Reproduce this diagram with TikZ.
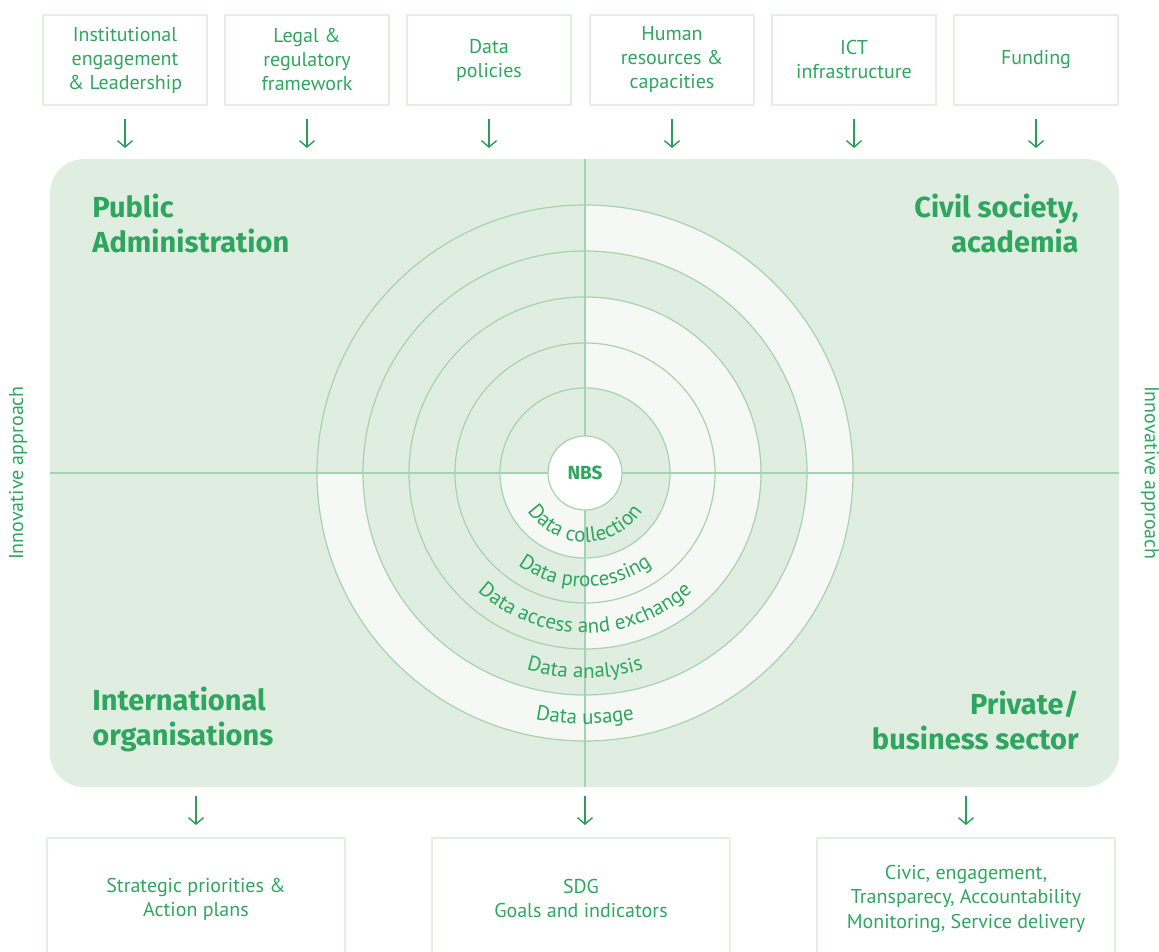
\documentclass[tikz,border=0pt]{standalone}
\usepackage{fontspec}
\setmainfont{PT Sans}
\newfontfamily\headfont{Fira Sans}
\usetikzlibrary{arrows.meta}
\usetikzlibrary{decorations.text}

\definecolor{panelgreen}{RGB}{224,238,225}
\definecolor{ringlight}{RGB}{246,248,245}
\definecolor{ringline}{RGB}{165,211,175}
\definecolor{boxline}{RGB}{226,240,228}
\definecolor{textgreen}{RGB}{46,166,94}
\definecolor{arrowgreen}{RGB}{40,158,88}

\newcommand{\bodyfont}{\fontsize{10}{12}\selectfont}
\newcommand{\headsize}{\headfont\bfseries\fontsize{14.5}{17.5}\selectfont}
\newcommand{\ringfont}{\fontsize{10.5}{12}\selectfont}
% light part of one ring: inner radius, outer radius, start angle, end angle
\newcommand{\lightring}[4]{%
  \fill[ringlight] (#3:#1) arc[start angle=#3,end angle=#4,radius=#1]
    -- (#4:#2) arc[start angle=#4,end angle=#3,radius=#2] -- cycle;}

\tikzset{
  topbox/.style={draw=boxline, line width=1pt, minimum width=82pt, minimum height=45pt,
    align=center, text=textgreen, font=\bodyfont, inner sep=2pt},
  botbox/.style={draw=boxline, line width=1pt, minimum width=149pt, minimum height=61pt,
    align=center, text=textgreen, font=\bodyfont},
  flow/.style={draw=arrowgreen, line width=0.7pt, -{Straight Barb[length=3.2pt,width=7.5pt]}},
  heading/.style={text=textgreen, font=\headsize, inner sep=0pt},
  sidetext/.style={text=textgreen, font=\bodyfont},
  ringline/.style={draw=ringline, line width=0.6pt},
  ringtext/.style={decorate, decoration={text along path, text align=center, text color=textgreen}}
}

\begin{document}
\begin{tikzpicture}[x=0.5pt,y=0.5pt]
  \useasboundingbox (0,0) rectangle (1159,951);
  \clip (0,0) rectangle (1159,951);

  % enablers
  \node[topbox] (t1) at (125,891) {Institutional\\engagement\\\& Leadership};
  \node[topbox] (t2) at (307,891) {Legal \&\\regulatory\\framework};
  \node[topbox] (t3) at (489,891) {Data\\policies};
  \node[topbox] (t4) at (672,891) {Human\\resources \&\\capacities};
  \node[topbox] (t5) at (854,891) {ICT\\infrastructure};
  \node[topbox] (t6) at (1036,891) {Funding};
  \foreach \b in {t1,t2,t3,t4,t5,t6}
    \draw[flow] ([yshift=-6.5pt]\b.south) -- ++(0,-29);

  % main panel
  \fill[panelgreen, rounded corners=17pt] (50,164) rectangle (1119,792);
  \coordinate (O) at (585,478);
  \begin{scope}[shift={(O)}]
    \lightring{222}{268}{-180}{90}
    \lightring{85}{176}{-90}{90}
    \lightring{37}{85}{180}{270}
  \end{scope}
  \draw[ringline] (585,164) -- (585,792);
  \draw[ringline] (50,478) -- (1119,478);
  \foreach \r in {85,130,176,222,268}
    \draw[ringline] (O) circle[radius=\r];
  \node[circle, ringline, fill=white, minimum size=37pt, inner sep=0pt, text=textgreen,
    font=\headfont\bfseries\fontsize{9.5}{11}\selectfont] (nbs) at (O) {NBS};

  \begin{scope}[shift={(O)}]
    \path[ringtext, decoration={text={|\ringfont|Data collection}}]
      (180:69) arc[start angle=180, end angle=360, radius=69];
    \path[ringtext, decoration={text={|\ringfont|Data processing}}]
      (180:114) arc[start angle=180, end angle=360, radius=114];
    \path[ringtext, decoration={text={|\ringfont|Data access and exchange}}]
      (180:160) arc[start angle=180, end angle=360, radius=160];
    \path[ringtext, decoration={text={|\ringfont|Data analysis}}]
      (180:205) arc[start angle=180, end angle=360, radius=205];
    \path[ringtext, decoration={text={|\ringfont|Data usage}}]
      (180:251) arc[start angle=180, end angle=360, radius=251];
  \end{scope}

  % stakeholders
  \node[heading, anchor=west, align=left] (pa) at (92,727) {Public\\Administration};
  \node[heading, anchor=east, align=right] (cs) at (1079,727) {Civil society,\\academia};
  \node[heading, anchor=west, align=left] (io) at (92,232) {International\\organisations};
  \node[heading, anchor=east, align=right] (pb) at (1079,231) {Private/\\business sector};

  \node[sidetext, rotate=90] (lside) at (18,478) {Innovative approach};
  \node[sidetext, rotate=-90] (rside) at (1150,478) {Innovative approach};

  % outcomes
  \node[botbox] (b1) at (196,52) {Strategic priorities \&\\Action plans};
  \node[botbox] (b2) at (581,52) {SDG\\Goals and indicators};
  \node[botbox] (b3) at (966,52) {Civic, engagement,\\Transparecy, Accountability\\Monitoring, Service delivery};
  \path (b2.north -| O) ++(0,12) coordinate (e2) ++(0,29) coordinate (s2);
  \draw[flow] ([yshift=20.5pt]b1.north) -- ([yshift=6pt]b1.north);
  \draw[flow] (s2) -- (e2);
  \draw[flow] ([yshift=20.5pt]b3.north) -- ([yshift=6pt]b3.north);
\end{tikzpicture}
\end{document}
